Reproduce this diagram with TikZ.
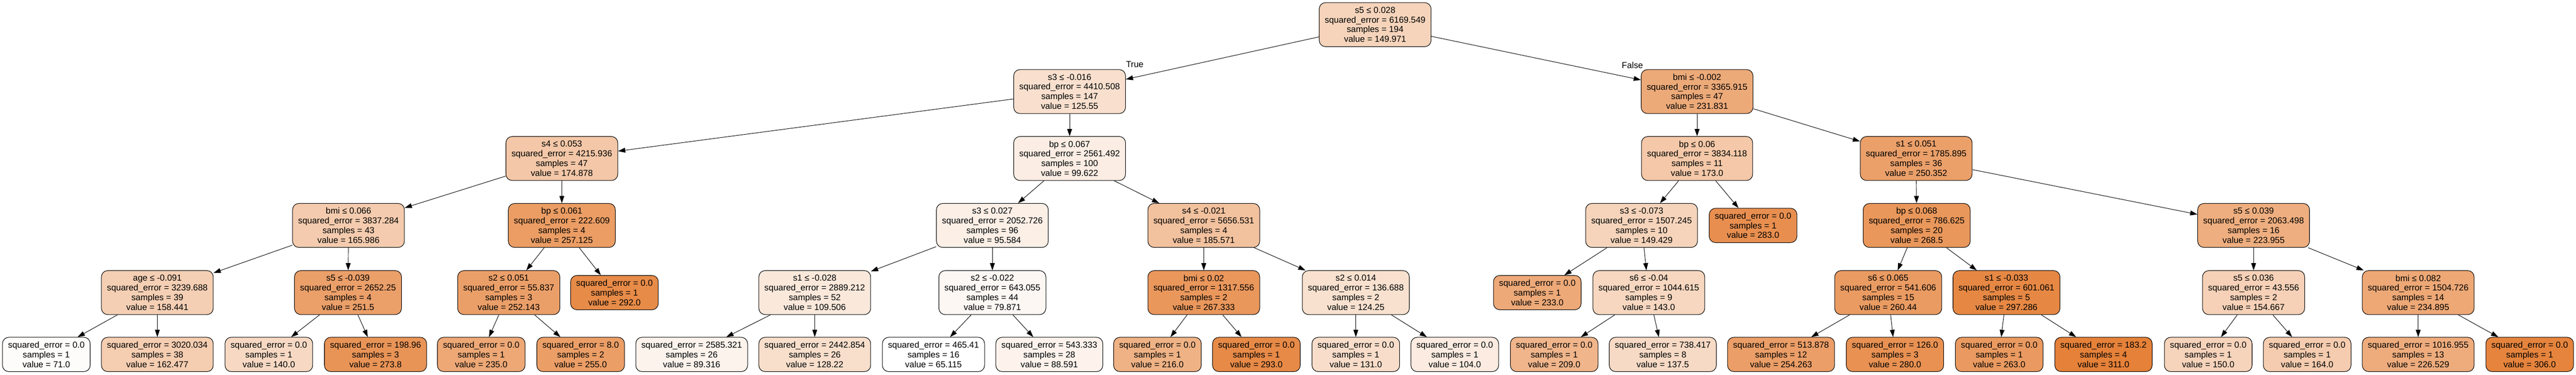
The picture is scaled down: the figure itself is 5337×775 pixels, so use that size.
\documentclass[tikz,border=0pt]{standalone}
\usepackage{fontspec}
\setmainfont{Liberation Sans}
\usetikzlibrary{arrows.meta}
\definecolor{tco}{RGB}{229,129,57}
\newcommand\tsplit[4]{#1\\squared\_error = #2\\samples = #3\\value = #4}
\newcommand\tleaf[3]{squared\_error = #1\\samples = #2\\value = #3}
\tikzset{
  tn/.style={draw=black, line width=1.1pt, rounded corners=13pt, align=center,
    inner xsep=11.5pt, inner ysep=2pt, minimum height=91pt,
    font=\fontsize{18}{20.1}\selectfont},
  lf/.style={tn, minimum height=71pt},
  fv/.code={\pgfmathsetmacro\fa{max(0,min(100,(#1-65.115)/2.45885))}%
    \edef\fb{\noexpand\tikzset{fill=tco!\fa!white}}\fb},
  ed/.style={line width=1pt, -{Triangle[length=15pt,width=10pt]}},
  lbl/.style={font=\fontsize{18}{20.1}\selectfont, inner sep=0pt}
}
\begin{document}
\begin{tikzpicture}[x=1pt,y=-1pt]
\useasboundingbox (0,0) rectangle (5337,775);
% level 0
\node[tn,fv=149.971] (n0) at (2849,51) {\tsplit{s5 ≤ 0.028}{6169.549}{194}{149.971}};
% level 1
\node[tn,fv=125.55] (n1) at (2216,189.5) {\tsplit{s3 ≤ -0.016}{4410.508}{147}{125.55}};
\node[tn,fv=231.831] (n24) at (3516,189.5) {\tsplit{bmi ≤ -0.002}{3365.915}{47}{231.831}};
% level 2
\node[tn,fv=174.878] (n2) at (1164,328) {\tsplit{s4 ≤ 0.053}{4215.936}{47}{174.878}};
\node[tn,fv=99.622] (n13) at (2216,328) {\tsplit{bp ≤ 0.067}{2561.492}{100}{99.622}};
\node[tn,fv=173.0] (n25) at (3516,328) {\tsplit{bp ≤ 0.06}{3834.118}{11}{173.0}};
\node[tn,fv=250.352] (n32) at (3970,328) {\tsplit{s1 ≤ 0.051}{1785.895}{36}{250.352}};
% level 3
\node[tn,fv=165.986] (n3) at (722,466.5) {\tsplit{bmi ≤ 0.066}{3837.284}{43}{165.986}};
\node[tn,fv=257.125] (n10) at (1164,466.5) {\tsplit{bp ≤ 0.061}{222.609}{4}{257.125}};
\node[tn,fv=95.584] (n14) at (2056,466.5) {\tsplit{s3 ≤ 0.027}{2052.726}{96}{95.584}};
\node[tn,fv=185.571] (n21) at (2494,466.5) {\tsplit{s4 ≤ -0.021}{5656.531}{4}{185.571}};
\node[tn,fv=149.429] (n26) at (3401,466.5) {\tsplit{s3 ≤ -0.073}{1507.245}{10}{149.429}};
\node[lf,fv=283.0] (n31) at (3632,466.5) {\tleaf{0.0}{1}{283.0}};
\node[tn,fv=268.5] (n33) at (3971,466.5) {\tsplit{bp ≤ 0.068}{786.625}{20}{268.5}};
\node[tn,fv=223.955] (n40) at (4669,466.5) {\tsplit{s5 ≤ 0.039}{2063.498}{16}{223.955}};
% level 4
\node[tn,fv=158.441] (n4) at (326,605.5) {\tsplit{age ≤ -0.091}{3239.688}{39}{158.441}};
\node[tn,fv=251.5] (n7) at (721,605.5) {\tsplit{s5 ≤ -0.039}{2652.25}{4}{251.5}};
\node[tn,fv=252.143] (n11) at (1054,605.5) {\tsplit{s2 ≤ 0.051}{55.837}{3}{252.143}};
\node[lf,fv=292.0] (n12) at (1273,605.5) {\tleaf{0.0}{1}{292.0}};
\node[tn,fv=109.506] (n15) at (1688,605.5) {\tsplit{s1 ≤ -0.028}{2889.212}{52}{109.506}};
\node[tn,fv=79.871] (n18) at (2056,605.5) {\tsplit{s2 ≤ -0.022}{643.055}{44}{79.871}};
\node[tn,fv=267.333] (n22) at (2494,605.5) {\tsplit{bmi ≤ 0.02}{1317.556}{2}{267.333}};
\node[tn,fv=124.25] (n23) at (2809,605.5) {\tsplit{s2 ≤ 0.014}{136.688}{2}{124.25}};
\node[lf,fv=233.0] (n27) at (3185,605.5) {\tleaf{0.0}{1}{233.0}};
\node[tn,fv=143.0] (n28) at (3416,605.5) {\tsplit{s6 ≤ -0.04}{1044.615}{9}{143.0}};
\node[tn,fv=260.44] (n34) at (3912,605.5) {\tsplit{s6 ≤ 0.065}{541.606}{15}{260.44}};
\node[tn,fv=297.286] (n37) at (4157,605.5) {\tsplit{s1 ≤ -0.033}{601.061}{5}{297.286}};
\node[tn,fv=154.667] (n41) at (4669,605.5) {\tsplit{s5 ≤ 0.036}{43.556}{2}{154.667}};
\node[tn,fv=234.895] (n44) at (5010,605.5) {\tsplit{bmi ≤ 0.082}{1504.726}{14}{234.895}};
% level 5
\node[lf,fv=71.0] (n5) at (96,733.5) {\tleaf{0.0}{1}{71.0}};
\node[lf,fv=162.477] (n6) at (326,733.5) {\tleaf{3020.034}{38}{162.477}};
\node[lf,fv=140.0] (n8) at (557,733.5) {\tleaf{0.0}{1}{140.0}};
\node[lf,fv=273.8] (n9) at (778,733.5) {\tleaf{198.96}{3}{273.8}};
\node[lf,fv=235.0] (n11a) at (997,733.5) {\tleaf{0.0}{1}{235.0}};
\node[lf,fv=255.0] (n11b) at (1203,733.5) {\tleaf{8.0}{2}{255.0}};
\node[lf,fv=89.316] (n16) at (1433,733.5) {\tleaf{2585.321}{26}{89.316}};
\node[lf,fv=128.22] (n17) at (1688,733.5) {\tleaf{2442.854}{26}{128.22}};
\node[lf,fv=65.115] (n19) at (1934,733.5) {\tleaf{465.41}{16}{65.115}};
\node[lf,fv=88.591] (n20) at (2174,733.5) {\tleaf{543.333}{28}{88.591}};
\node[lf,fv=216.0] (n22a) at (2398,733.5) {\tleaf{0.0}{1}{216.0}};
\node[lf,fv=293.0] (n22b) at (2603,733.5) {\tleaf{0.0}{1}{293.0}};
\node[lf,fv=131.0] (n23a) at (2809,733.5) {\tleaf{0.0}{1}{131.0}};
\node[lf,fv=104.0] (n23b) at (3014,733.5) {\tleaf{0.0}{1}{104.0}};
\node[lf,fv=209.0] (n29) at (3220,733.5) {\tleaf{0.0}{1}{209.0}};
\node[lf,fv=137.5] (n30) at (3445,733.5) {\tleaf{738.417}{8}{137.5}};
\node[lf,fv=254.263] (n35) at (3690,733.5) {\tleaf{513.878}{12}{254.263}};
\node[lf,fv=280.0] (n36) at (3926,733.5) {\tleaf{126.0}{3}{280.0}};
\node[lf,fv=263.0] (n38) at (4142,733.5) {\tleaf{0.0}{1}{263.0}};
\node[lf,fv=311.0] (n39) at (4358,733.5) {\tleaf{183.2}{4}{311.0}};
\node[lf,fv=150.0] (n42) at (4575,733.5) {\tleaf{0.0}{1}{150.0}};
\node[lf,fv=164.0] (n43) at (4780,733.5) {\tleaf{0.0}{1}{164.0}};
\node[lf,fv=226.529] (n45) at (5010,733.5) {\tleaf{1016.955}{13}{226.529}};
\node[lf,fv=306.0] (n46) at (5241,733.5) {\tleaf{0.0}{1}{306.0}};
% labels
\node[lbl] (lt) at (2351,133) {True};
\node[lbl] (lfa) at (3382,135) {False};
% edges
\draw[ed] (n0) -- (n1);
\draw[ed] (n0) -- (n24);
\draw[ed] (n1) -- (n2);
\draw[ed] (n1) -- (n13);
\draw[ed] (n2) -- (n3);
\draw[ed] (n2) -- (n10);
\draw[ed] (n3) -- (n4);
\draw[ed] (n3) -- (n7);
\draw[ed] (n4) -- (n5);
\draw[ed] (n4) -- (n6);
\draw[ed] (n7) -- (n8);
\draw[ed] (n7) -- (n9);
\draw[ed] (n10) -- (n11);
\draw[ed] (n10) -- (n12);
\draw[ed] (n11) -- (n11a);
\draw[ed] (n11) -- (n11b);
\draw[ed] (n13) -- (n14);
\draw[ed] (n13) -- (n21);
\draw[ed] (n14) -- (n15);
\draw[ed] (n14) -- (n18);
\draw[ed] (n15) -- (n16);
\draw[ed] (n15) -- (n17);
\draw[ed] (n18) -- (n19);
\draw[ed] (n18) -- (n20);
\draw[ed] (n21) -- (n22);
\draw[ed] (n21) -- (n23);
\draw[ed] (n22) -- (n22a);
\draw[ed] (n22) -- (n22b);
\draw[ed] (n23) -- (n23a);
\draw[ed] (n23) -- (n23b);
\draw[ed] (n24) -- (n25);
\draw[ed] (n24) -- (n32);
\draw[ed] (n25) -- (n26);
\draw[ed] (n25) -- (n31);
\draw[ed] (n26) -- (n27);
\draw[ed] (n26) -- (n28);
\draw[ed] (n28) -- (n29);
\draw[ed] (n28) -- (n30);
\draw[ed] (n32) -- (n33);
\draw[ed] (n32) -- (n40);
\draw[ed] (n33) -- (n34);
\draw[ed] (n33) -- (n37);
\draw[ed] (n34) -- (n35);
\draw[ed] (n34) -- (n36);
\draw[ed] (n37) -- (n38);
\draw[ed] (n37) -- (n39);
\draw[ed] (n40) -- (n41);
\draw[ed] (n40) -- (n44);
\draw[ed] (n41) -- (n42);
\draw[ed] (n41) -- (n43);
\draw[ed] (n44) -- (n45);
\draw[ed] (n44) -- (n46);
\end{tikzpicture}
\end{document}
